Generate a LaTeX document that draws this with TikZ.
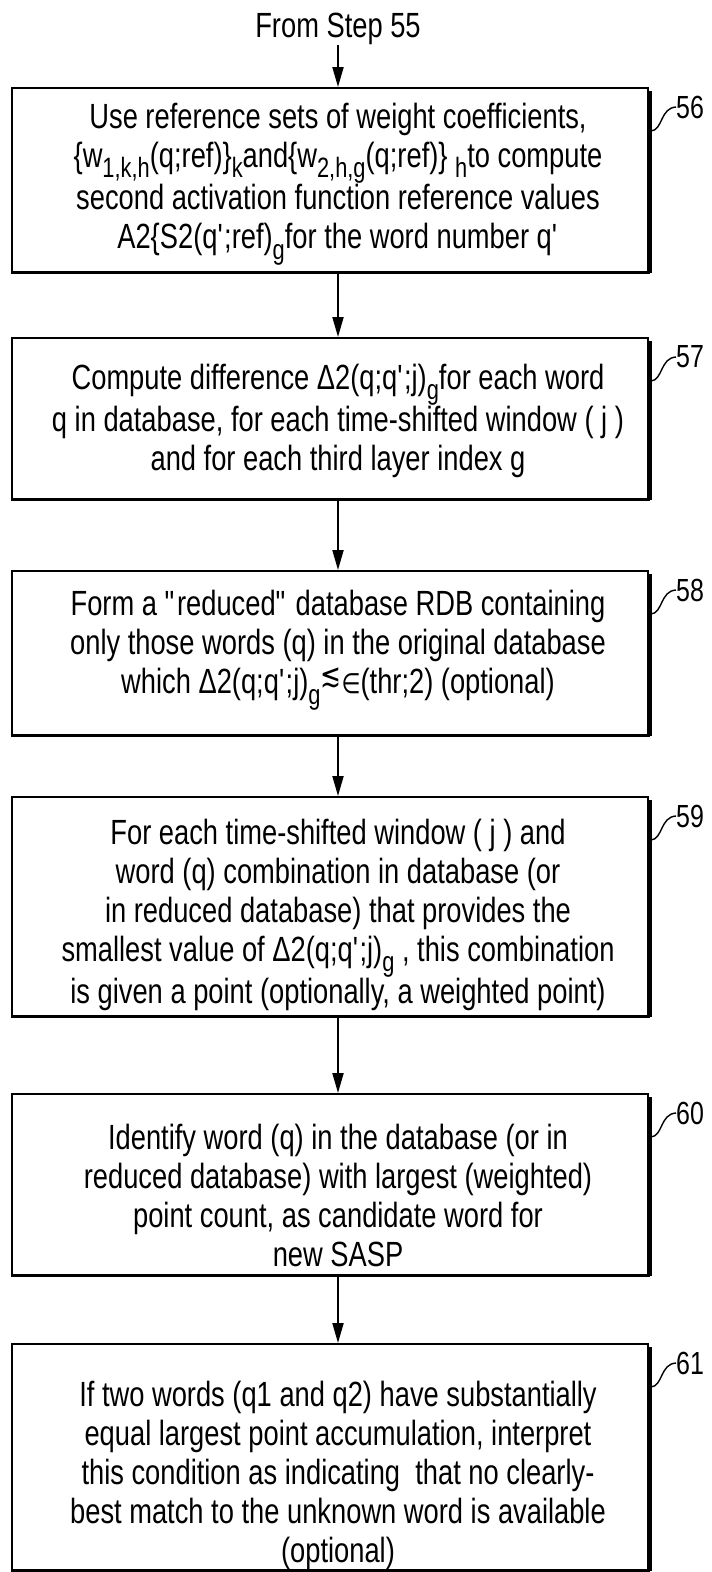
\documentclass[tikz,border=0pt]{standalone}
\usepackage{fontspec}
\setmainfont{Liberation Sans}[FakeStretch=0.78]
\newfontfamily\symf{DejaVu Sans}[FakeStretch=0.78]
\usetikzlibrary{arrows.meta}
\newcommand{\lo}[1]{\raisebox{-0.3em}{\fontsize{28}{28}\selectfont #1}}
\newcommand{\pr}{\textquotesingle}
\begin{document}
\begin{tikzpicture}[x=1pt,y=-1pt,
  box/.style={draw, line width=2pt, minimum width=636pt, inner sep=0pt, anchor=north west},
  txt/.style={align=center, font=\fontsize{35}{39}\selectfont, inner sep=0pt},
  lab/.style={font=\fontsize{32}{32}\selectfont, anchor=west, inner sep=0pt},
  arr/.style={-{Triangle[length=20pt,width=11pt]}, line width=2pt},
  sq/.style={line width=1.4pt},
  shadow/.style={line width=3.8pt}]
\useasboundingbox (0,0) rectangle (712,1572);

% boxes
\node[box, minimum height=184pt] (b56) at (11,87) {};
\node[box, minimum height=161pt] (b57) at (11,337) {};
\node[box, minimum height=164pt] (b58) at (11,570) {};
\node[box, minimum height=219pt] (b59) at (11,796) {};
\node[box, minimum height=181pt] (b60) at (11,1093) {};
\node[box, minimum height=226pt] (b61) at (11,1343) {};

\foreach \b in {b56,b57,b58,b59,b60,b61}{
  \draw[shadow] ([xshift=1pt,yshift=-4pt]\b.north east) -- ([xshift=1pt]\b.south east);
  \draw[line width=2.8pt] ([xshift=1pt]\b.south east) -- (\b.south west);
}

% texts
\node[txt] (from) at (338,29) {From Step 55};
\node[txt] (t56) at (338,184) {Use reference sets of weight coefficients,\\
\{w\lo{1,k,h}(q;ref)\}\lo{k}and\{w\lo{2,h,g}(q;ref)\} \lo{h}to compute\\
second activation function reference values\\
A2\{S2(q\pr;ref)\lo{g}for the word number q\pr};
\node[txt] (t57) at (338,421) {Compute difference Δ2(q;q\pr;j)\lo{g}for each word\\
q in database, for each time-shifted window ( j )\\
and for each third layer index g};
\node[txt] (t58) at (338,650) {Form a \textquotedbl reduced\textquotedbl{} database RDB containing\\
only those words (q) in the original database\\
which Δ2(q;q\pr;j)\lo{g}{\symf\raisebox{0.2em}{\fontsize{32}{32}\selectfont ≲}}{\symf\fontsize{28}{28}\selectfont ∈}(thr;2) (optional)};
\node[txt] (t59) at (338,915) {For each time-shifted window ( j ) and\\
word (q) combination in database (or\\
in reduced database) that provides the\\
smallest value of Δ2(q;q\pr;j)\lo{g} , this combination\\
is given a point (optionally, a weighted point)};
\node[txt] (t60) at (338,1195) {Identify word (q) in the database (or in\\
reduced database) with largest (weighted)\\
point count, as candidate word for\\
new SASP};
\node[txt] (t61) at (338,1475) {If two words (q1 and q2) have substantially\\
equal largest point accumulation, interpret\\
this condition as indicating\ \ that no clearly-\\
best match to the unknown word is available\\
(optional)};

% arrows
\draw[arr] (from.south) -- (from |- b56.north);
\draw[arr] (t56 |- b56.south) -- (t57 |- b57.north);
\draw[arr] (t57 |- b57.south) -- (t58 |- b58.north);
\draw[arr] (t58 |- b58.south) -- (t59 |- b59.north);
\draw[arr] (t59 |- b59.south) -- (t60 |- b60.north);
\draw[arr] (t60 |- b60.south) -- (t61 |- b61.north);

% labels
\foreach \b/\n in {b56/56,b57/57,b58/58,b59/59,b60/60,b61/61}{
  \node[lab] (l\n) at ([xshift=27pt,yshift=-20pt]\b.north east) {\n};
  \draw[sq] ([xshift=2pt,yshift=-44pt]\b.north east) .. controls +(12,-1) and +(-16,1) .. (l\n.west);
}
\end{tikzpicture}
\end{document}
